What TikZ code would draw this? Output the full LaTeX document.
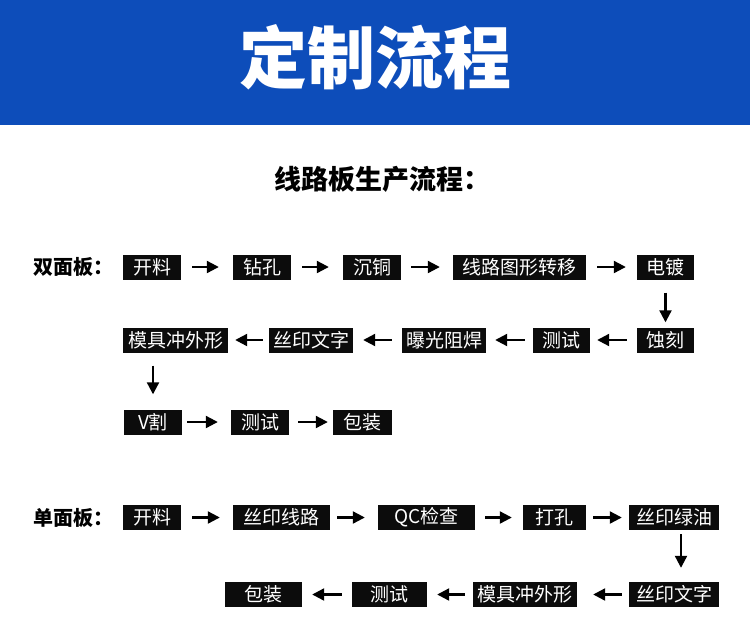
\documentclass[tikz,border=0pt]{standalone}
\usepackage{fontspec}
\setmainfont{Noto Sans CJK SC}
\usetikzlibrary{arrows, arrows.meta}
\definecolor{headblue}{RGB}{13,77,186}
\definecolor{boxblack}{RGB}{12,12,12}
\tikzset{
  stepbox/.style={rectangle, fill=boxblack, text=white, inner sep=0pt, minimum height=25pt, font=\fontsize{19}{19}\selectfont},
  flow/.style={-{Triangle[length=12pt,width=12pt]}, line width=2.2pt, shorten <=9pt, shorten >=9pt},
  rowlabel/.style={anchor=west, inner sep=0pt, font=\fontsize{20}{20}\selectfont\bfseries}
}

\begin{document}
\begin{tikzpicture}[x=1pt, y=1pt]
      \useasboundingbox (0,0) rectangle (750,-637);
      \fill[headblue] (0,0) rectangle (750,-125);
      \node[text=white, font=\fontsize{68}{68}\selectfont\bfseries] (title) at (375,-57) {定制流程};
      \node[anchor=west, inner sep=0pt, font=\fontsize{27}{27}\selectfont\bfseries] (sub) at (274,-179) {线路板生产流程：};

      % double sided
      \node[rowlabel] (dlabel) at (33,-267) {双面板：};
      \node[stepbox, minimum width=58pt] (kl1) at (152,-267) {开料};
      \node[stepbox, minimum width=58pt] (zk) at (262,-267) {钻孔};
      \node[stepbox, minimum width=58pt] (ct) at (372,-267) {沉铜};
      \node[stepbox, minimum width=133pt] (xl) at (519.5,-267) {线路图形转移};
      \node[stepbox, minimum width=57pt] (dd) at (665.5,-267) {电镀};
      \node[stepbox, minimum width=57pt] (sk) at (665.5,-340) {蚀刻};
      \node[stepbox, minimum width=57pt] (cs1) at (561.5,-340) {测试};
      \node[stepbox, minimum width=84pt] (bg) at (444,-340) {曝光阻焊};
      \node[stepbox, minimum width=84pt] (sy1) at (311,-340) {丝印文字};
      \node[stepbox, minimum width=105pt] (mj1) at (175.5,-340) {模具冲外形};
      \node[stepbox, minimum width=58pt] (vg) at (153,-422) {V割};
      \node[stepbox, minimum width=58pt] (cs2) at (260,-422) {测试};
      \node[stepbox, minimum width=59pt] (bz1) at (362.5,-422) {包装};

      \draw[flow, shorten <=11pt, shorten >=14pt] (kl1) -- (zk);
      \draw[flow, shorten <=11pt, shorten >=14pt] (zk) -- (ct);
      \draw[flow, shorten <=10pt, shorten >=13pt] (ct) -- (xl);
      \draw[flow, shorten <=11pt, shorten >=11pt] (xl) -- (dd);
      \draw[flow, shorten <=13pt, shorten >=5pt] (dd) -- (sk);
      \draw[flow, shorten <=10pt, shorten >=7pt] (sk) -- (cs1);
      \draw[flow, shorten <=8pt, shorten >=9pt] (cs1) -- (bg);
      \draw[flow, shorten <=10pt, shorten >=10pt] (bg) -- (sy1);
      \draw[flow, shorten <=6pt, shorten >=7pt] (sy1) -- (mj1);
      \draw[flow, shorten <=13pt, shorten >=15pt] (mj1.south -| vg) -- (vg);
      \draw[flow, shorten <=5pt, shorten >=13pt] (vg) -- (cs2);
      \draw[flow, shorten <=9pt, shorten >=5pt] (cs2) -- (bz1);

      % single sided
      \node[rowlabel] (slabel) at (33,-517.5) {单面板：};
      \node[stepbox, minimum width=58pt] (kl2) at (152,-517.5) {开料};
      \node[stepbox, minimum width=97pt] (syxl) at (281.5,-517.5) {丝印线路};
      \node[stepbox, minimum width=97pt] (qc) at (426.5,-517.5) {QC检查};
      \node[stepbox, minimum width=63pt] (dk) at (554.5,-517.5) {打孔};
      \node[stepbox, minimum width=90pt] (syly) at (674,-517.5) {丝印绿油};
      \node[stepbox, minimum width=90pt] (sywz) at (674,-594.5) {丝印文字};
      \node[stepbox, minimum width=104pt] (mj2) at (525,-594.5) {模具冲外形};
      \node[stepbox, minimum width=75pt] (cs3) at (389.5,-594.5) {测试};
      \node[stepbox, minimum width=77pt] (bz2) at (263.5,-594.5) {包装};

      \draw[flow, shorten <=11pt, shorten >=13pt] (kl2) -- (syxl);
      \draw[flow, shorten <=7pt, shorten >=13pt] (syxl) -- (qc);
      \draw[flow, shorten <=10pt, shorten >=11pt] (qc) -- (dk);
      \draw[flow, shorten <=7pt, shorten >=7pt] (dk) -- (syly);
      \draw[flow, shorten <=4pt, shorten >=14pt] ([xshift=7pt]syly.south) -- ([xshift=7pt]sywz.north);
      \draw[flow, shorten <=7pt, shorten >=16pt] (sywz) -- (mj2);
      \draw[flow, shorten <=8pt, shorten >=10pt] (mj2) -- (cs3);
      \draw[flow, shorten <=10pt, shorten >=10pt] (cs3) -- (bz2);
\end{tikzpicture}
\end{document}
